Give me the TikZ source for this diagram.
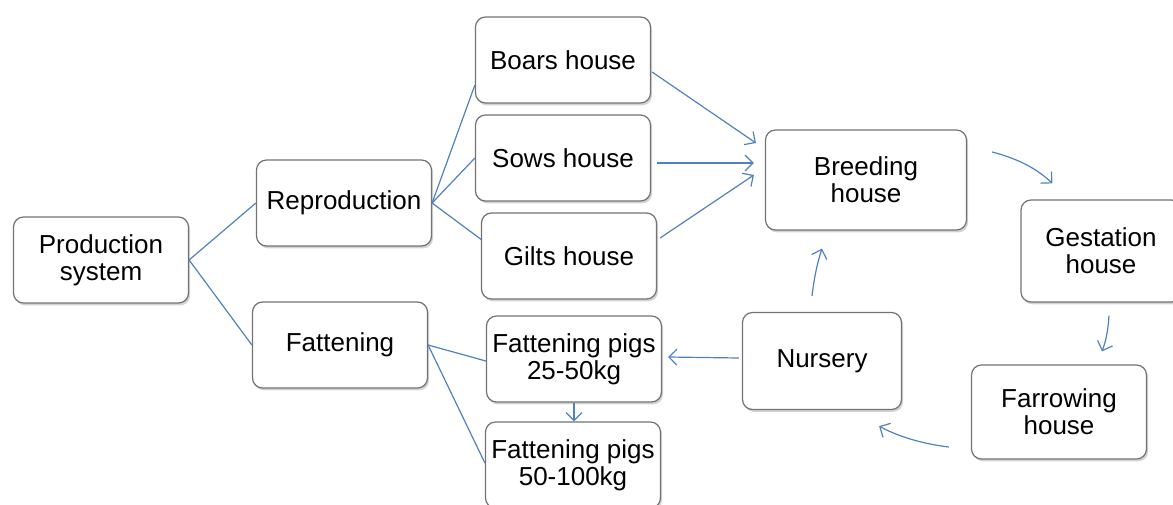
\documentclass[tikz,border=0pt]{standalone}
\usepackage{fontspec}
\setmainfont{Liberation Sans}
\usetikzlibrary{shadows,arrows.meta,calc}
\definecolor{linkblue}{RGB}{79,129,189}
\definecolor{boxline}{RGB}{115,115,115}
\tikzset{
  box/.style={draw=boxline, line width=0.6pt, fill=white, rounded corners=5pt,
    align=center, inner sep=0pt, font=\fontsize{13}{13.5}\selectfont,
    minimum width=87.5pt, minimum height=43pt,
    drop shadow={shadow xshift=0.8pt, shadow yshift=-1.2pt, opacity=0.35}},
  link/.style={draw=linkblue, line width=0.6pt},
  flow/.style={link, -{Straight Barb[length=4pt,width=8pt]}},
}
\begin{document}
\begin{tikzpicture}[x=0.5pt,y=-0.5pt]
\useasboundingbox (0,0) rectangle (1173,504);

% hierarchy boxes
\node[box] (prod) at (101,260) {Production\\system};
\node[box] (repro) at (344,203) {Reproduction};
\node[box] (fatten) at (340,345) {Fattening};
\node[box] (boars) at (563,60) {Boars house};
\node[box] (sows) at (563,158) {Sows house};
\node[box] (gilts) at (569,256) {Gilts house};
\node[box] (pigsA) at (574,359) {Fattening pigs\\25-50kg};
\node[box] (pigsB) at (573,465) {Fattening pigs\\50-100kg};

% production cycle boxes
\node[box, minimum width=100.5pt, minimum height=50pt] (breed) at (866,180) {Breeding\\house};
\node[box, minimum width=80pt, minimum height=51pt] (gest) at (1101,251) {Gestation\\house};
\node[box, minimum width=87.5pt, minimum height=47pt] (farrow) at (1059,412) {Farrowing\\house};
\node[box, minimum width=79.5pt, minimum height=48.5pt] (nursery) at (822,361) {Nursery};

% tree connectors
\draw[link] (prod.east) -- (repro.west);
\draw[link] (prod.east) -- (fatten.west);
\draw[link] (repro.east) -- ($(boars.west)+(0,25)$);
\draw[link] (repro.east) -- (sows.west);
\draw[link] (repro.east) -- ($(gilts.west)+(1,-16)$);
\draw[link] (fatten.east) -- ($(pigsA.west)+(0,2)$);
\draw[link] (fatten.east) -- ($(pigsB.west)+(0,-2)$);

% houses feeding the breeding house
\draw[flow] ($(boars.east)+(1,12)$) -- ($(breed.west)+(-9,-37)$);
\draw[flow] ($(sows.east)+(6,5)$) -- ($(breed.west)+(-11,-17)$);
\draw[flow] ($(gilts.east)+(3,-18)$) -- ($(breed.west)+(-11,-5)$);

% the cycle
\draw[flow] ($(breed.east)+(25,-28)$) .. controls ($(breed.east)+(48,-22)$) and ($(breed.east)+(68,-13)$) .. ($(gest.north west)+(32,-16)$);
\draw[flow] ($(gest.south)+(8,13)$) .. controls ($(gest.south)+(7,28)$) and ($(gest.south)+(5,38)$) .. ($(farrow.north)+(43,-13)$);
\draw[flow] ($(farrow.west)+(-22,35)$) .. controls ($(farrow.west)+(-47,32)$) and ($(farrow.west)+(-72,25)$) .. ($(nursery.south east)+(-23,16)$);
\draw[flow] ($(nursery.north)+(-10,-16)$) .. controls ($(nursery.north)+(-8,-33)$) and ($(nursery.north)+(-5,-48)$) .. ($(breed.south)+(-44,18)$);
\draw[flow] ($(nursery.west)+(-3,-3)$) -- ($(pigsA.east)+(6,-2)$);
\draw[flow] (pigsA.south) -- (pigsA.south |- pigsB.north);
\end{tikzpicture}
\end{document}
